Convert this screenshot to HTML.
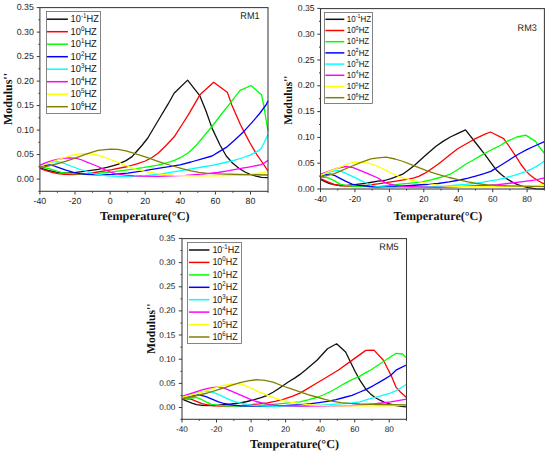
<!DOCTYPE html>
<html><head><meta charset="utf-8"><title>Loss modulus vs temperature</title>
<style>html,body{margin:0;padding:0;background:#fff}svg{display:block}text{white-space:pre;text-rendering:geometricPrecision}.sa,.sa text{font-family:"Liberation Sans",sans-serif}.se,.se text{font-family:"Liberation Serif",serif}</style>
</head><body>
<svg width="550" height="454" viewBox="0 0 550 454">
<rect width="550" height="454" fill="#fff"/>
<g fill="none" stroke-width="1.3" stroke-linejoin="round" stroke-linecap="butt"><path d="M39.9 167.8 L48.0 170.3 L56.0 172.2 L66.0 173.2 L74.3 172.6 L86.0 171.2 L98.0 169.4 L108.0 167.2 L117.8 164.3 L126.0 160.6 L132.1 156.6 L137.0 151.0 L142.3 145.0 L147.8 138.0 L160.6 116.5 L168.0 104.2 L174.1 93.2 L187.6 80.1 L199.9 95.9 L206.0 111.0 L212.0 128.1 L220.0 145.0 L226.3 156.0 L232.5 163.0 L239.5 168.7 L245.0 172.0 L250.5 174.5 L256.0 176.2 L261.5 177.3 L268.0 177.6" stroke="#111111"/><path d="M39.9 168.5 L46.0 170.6 L53.0 172.6 L58.0 173.6 L64.4 174.3 L73.0 174.5 L82.0 174.1 L90.0 173.2 L98.0 172.0 L112.0 169.7 L127.7 166.5 L137.0 163.8 L145.3 161.0 L152.0 157.5 L158.0 153.3 L162.0 149.5 L166.5 145.0 L174.2 136.8 L181.8 125.0 L188.0 115.4 L199.9 94.8 L213.7 82.2 L227.5 92.6 L231.8 105.0 L240.6 125.0 L243.9 131.4 L250.0 143.0 L256.0 153.3 L262.0 162.0 L268.0 170.9" stroke="#ff0000"/><path d="M39.9 167.2 L44.0 167.7 L49.0 168.7 L53.0 169.9 L56.7 171.2 L61.0 172.3 L65.5 173.1 L72.0 173.6 L80.0 173.9 L90.0 173.8 L98.0 173.4 L112.0 171.9 L127.7 169.8 L143.0 167.6 L158.0 165.1 L166.0 163.0 L174.5 160.4 L181.0 157.3 L187.7 153.3 L192.0 149.5 L196.5 145.0 L204.0 136.0 L212.0 126.5 L220.0 116.0 L228.0 105.8 L240.1 90.4 L251.1 85.5 L261.5 94.8 L263.7 105.0 L265.8 118.0 L268.0 131.0" stroke="#00ff00"/><path d="M39.9 166.6 L44.0 165.5 L49.0 164.8 L53.0 165.5 L58.0 167.3 L66.0 170.2 L74.3 172.6 L80.0 173.7 L86.0 174.4 L98.0 174.9 L112.0 174.3 L127.7 173.1 L143.0 170.9 L158.0 168.3 L169.0 166.7 L180.0 164.8 L191.0 162.0 L202.0 158.8 L212.0 156.0 L218.0 152.4 L226.3 147.4 L235.0 139.7 L243.9 131.4 L253.8 120.4 L260.0 113.0 L266.0 105.0 L268.0 100.9" stroke="#0000ff"/><path d="M39.9 166.0 L46.0 164.0 L52.0 162.2 L56.7 161.6 L61.0 162.3 L66.0 164.2 L72.0 166.5 L79.0 169.0 L86.5 171.4 L92.0 173.1 L98.0 174.5 L108.0 175.8 L120.0 176.4 L132.0 176.4 L145.0 175.7 L158.0 174.5 L172.0 172.2 L185.5 169.8 L202.0 167.0 L212.0 165.4 L223.0 163.0 L234.0 160.4 L242.0 158.0 L250.5 154.9 L256.0 152.0 L260.4 149.4 L262.2 146.5 L264.2 142.5 L268.0 134.4" stroke="#00ffff"/><path d="M39.9 165.3 L44.0 163.4 L49.0 161.6 L54.0 160.2 L60.0 158.9 L66.0 158.0 L71.0 157.8 L76.5 158.3 L82.0 160.0 L87.5 162.4 L93.0 164.5 L98.0 166.5 L104.5 169.7 L111.2 172.5 L118.0 174.1 L125.5 175.1 L134.0 175.8 L142.0 176.2 L158.0 176.4 L172.0 175.9 L185.5 175.3 L202.0 174.2 L218.0 172.5 L229.0 170.7 L239.5 168.7 L250.0 166.8 L260.4 164.8 L264.5 162.8 L268.0 160.4" stroke="#ff00ff"/><path d="M39.9 166.5 L50.0 162.6 L60.0 159.0 L68.0 156.5 L75.0 154.6 L82.0 153.6 L90.0 153.9 L98.0 155.1 L109.0 159.0 L120.0 163.2 L127.0 166.0 L134.3 168.7 L146.0 171.6 L158.0 173.8 L166.0 174.7 L174.5 175.3 L191.0 175.8 L205.0 175.9 L218.0 175.8 L235.0 175.3 L250.5 174.5 L260.0 173.1 L268.0 171.4" stroke="#ffff00"/><path d="M39.9 167.4 L44.6 166.9 L54.5 164.5 L65.5 161.4 L76.5 157.7 L87.5 153.7 L98.0 150.3 L105.0 149.6 L111.0 149.2 L118.0 149.3 L126.0 150.9 L134.3 153.3 L146.0 157.1 L158.0 161.3 L166.0 164.0 L174.5 166.5 L183.0 168.9 L191.0 170.9 L199.0 172.4 L207.5 173.4 L218.0 173.9 L240.0 174.5 L268.0 175.0" stroke="#808000"/></g><rect x="39.9" y="7.6" width="228.1" height="183.7" fill="none" stroke="#3a3a3a" stroke-width="1.05"/><path d="M39.9 179.1h-3.2M39.9 166.8h-1.5M39.9 154.6h-3.2M39.9 142.3h-1.5M39.9 130.1h-3.2M39.9 117.8h-1.5M39.9 105.6h-3.2M39.9 93.3h-1.5M39.9 81.1h-3.2M39.9 68.8h-1.5M39.9 56.6h-3.2M39.9 44.3h-1.5M39.9 32.1h-3.2M39.9 19.8h-1.5M39.9 7.6h-3.2M39.9 191.3h-1.5M39.9 191.3v3.2M57.4 191.3v1.5M75.0 191.3v3.2M92.5 191.3v1.5M110.1 191.3v3.2M127.7 191.3v1.5M145.2 191.3v3.2M162.8 191.3v1.5M180.3 191.3v3.2M197.8 191.3v1.5M215.4 191.3v3.2M232.9 191.3v1.5M250.5 191.3v3.2M268.0 191.3v1.5" stroke="#3a3a3a" stroke-width="1" fill="none"/><g class="sa" font-size="8.8" fill="#1a1a1a"><text x="33.8" y="181.7" text-anchor="end">0.00</text><text x="33.8" y="157.2" text-anchor="end">0.05</text><text x="33.8" y="132.7" text-anchor="end">0.10</text><text x="33.8" y="108.2" text-anchor="end">0.15</text><text x="33.8" y="83.7" text-anchor="end">0.20</text><text x="33.8" y="59.2" text-anchor="end">0.25</text><text x="33.8" y="34.7" text-anchor="end">0.30</text><text x="33.8" y="10.2" text-anchor="end">0.35</text><text x="39.9" y="204.3" text-anchor="middle">-40</text><text x="75.0" y="204.3" text-anchor="middle">-20</text><text x="110.1" y="204.3" text-anchor="middle">0</text><text x="145.2" y="204.3" text-anchor="middle">20</text><text x="180.3" y="204.3" text-anchor="middle">40</text><text x="215.4" y="204.3" text-anchor="middle">60</text><text x="250.5" y="204.3" text-anchor="middle">80</text></g><g class="sa" fill="#111"><rect x="46.5" y="11.5" width="54.0" height="102.0" fill="#fff" stroke="#666" stroke-width="0.8"/><path d="M47.0 19.2H67.9" stroke="#111111" stroke-width="1.5"/><text x="70.6" y="22.3" font-size="10.2" textLength="28.2" lengthAdjust="spacingAndGlyphs">10<tspan font-size="6.9" dy="-4.1">-1</tspan><tspan dy="4.1">HZ</tspan></text><path d="M47.0 31.7H67.9" stroke="#ff0000" stroke-width="1.5"/><text x="70.6" y="34.8" font-size="10.2" textLength="26.2" lengthAdjust="spacingAndGlyphs">10<tspan font-size="6.9" dy="-4.1">0</tspan><tspan dy="4.1">HZ</tspan></text><path d="M47.0 44.2H67.9" stroke="#00ff00" stroke-width="1.5"/><text x="70.6" y="47.3" font-size="10.2" textLength="26.2" lengthAdjust="spacingAndGlyphs">10<tspan font-size="6.9" dy="-4.1">1</tspan><tspan dy="4.1">HZ</tspan></text><path d="M47.0 56.7H67.9" stroke="#0000ff" stroke-width="1.5"/><text x="70.6" y="59.8" font-size="10.2" textLength="26.2" lengthAdjust="spacingAndGlyphs">10<tspan font-size="6.9" dy="-4.1">2</tspan><tspan dy="4.1">HZ</tspan></text><path d="M47.0 69.2H67.9" stroke="#00ffff" stroke-width="1.5"/><text x="70.6" y="72.3" font-size="10.2" textLength="26.2" lengthAdjust="spacingAndGlyphs">10<tspan font-size="6.9" dy="-4.1">3</tspan><tspan dy="4.1">HZ</tspan></text><path d="M47.0 81.7H67.9" stroke="#ff00ff" stroke-width="1.5"/><text x="70.6" y="84.8" font-size="10.2" textLength="26.2" lengthAdjust="spacingAndGlyphs">10<tspan font-size="6.9" dy="-4.1">4</tspan><tspan dy="4.1">HZ</tspan></text><path d="M47.0 94.2H67.9" stroke="#ffff00" stroke-width="1.5"/><text x="70.6" y="97.3" font-size="10.2" textLength="26.2" lengthAdjust="spacingAndGlyphs">10<tspan font-size="6.9" dy="-4.1">5</tspan><tspan dy="4.1">HZ</tspan></text><path d="M47.0 106.7H67.9" stroke="#808000" stroke-width="1.5"/><text x="70.6" y="109.8" font-size="10.2" textLength="26.2" lengthAdjust="spacingAndGlyphs">10<tspan font-size="6.9" dy="-4.1">6</tspan><tspan dy="4.1">HZ</tspan></text></g><text x="240.3" y="19.1" class="sa" font-size="9.8" fill="#222" textLength="19.3" lengthAdjust="spacingAndGlyphs">RM1</text><g class="se" font-weight="bold" fill="#111" text-anchor="middle"><text transform="translate(12.2 99.0) rotate(-90)" font-size="12.3" textLength="52.1" lengthAdjust="spacingAndGlyphs">Modulus''</text><text x="144.8" y="220.4" font-size="12.2" textLength="89.6" lengthAdjust="spacingAndGlyphs">Temperature(°C)</text></g><g fill="none" stroke-width="1.3" stroke-linejoin="round" stroke-linecap="butt"><path d="M320.5 179.4 L325.0 181.7 L329.0 183.3 L334.0 184.6 L340.0 185.5 L347.0 185.4 L354.3 184.6 L361.0 183.8 L367.5 183.0 L378.0 181.1 L384.6 180.5 L391.0 178.6 L397.0 176.4 L403.3 173.8 L408.5 170.0 L414.3 165.4 L425.0 155.7 L436.0 146.3 L443.0 141.4 L450.3 137.0 L458.0 133.3 L465.5 129.8 L478.2 146.0 L484.6 154.2 L490.8 162.6 L496.6 170.3 L501.5 174.7 L506.5 178.6 L512.0 181.9 L517.5 184.6 L523.0 186.4 L528.5 187.7 L536.2 188.8 L544.4 189.2" stroke="#111111"/><path d="M320.5 178.6 L325.0 180.6 L329.0 182.4 L334.0 184.3 L340.0 185.7 L346.0 186.2 L351.0 186.3 L359.0 185.9 L367.5 185.2 L378.0 183.8 L386.0 182.6 L394.5 181.3 L402.0 180.2 L408.8 179.1 L414.0 177.9 L418.7 176.4 L424.0 173.7 L428.6 170.9 L433.0 167.8 L438.0 164.3 L443.5 160.0 L449.0 155.5 L458.0 148.5 L465.5 144.2 L473.4 139.7 L485.0 134.2 L490.5 132.0 L503.7 138.6 L508.2 145.0 L516.4 157.1 L521.0 164.5 L526.3 171.4 L530.0 175.0 L534.0 178.0 L539.0 181.2 L544.4 184.1" stroke="#ff0000"/><path d="M320.5 177.0 L325.0 177.4 L329.0 178.0 L334.0 180.6 L340.0 184.1 L345.0 185.3 L351.0 186.0 L365.0 186.5 L378.0 186.6 L389.0 185.5 L400.0 184.1 L411.0 183.1 L422.0 181.9 L430.0 180.2 L438.0 178.0 L444.0 176.3 L450.1 174.2 L458.0 169.5 L465.5 164.3 L473.4 160.0 L482.0 154.9 L485.0 153.2 L490.0 150.5 L498.0 146.7 L501.0 145.0 L505.9 141.9 L516.9 137.0 L525.7 135.1 L535.6 141.4 L537.9 145.0 L541.0 149.0 L544.4 153.3" stroke="#00ff00"/><path d="M320.5 175.8 L325.0 174.8 L330.1 174.2 L335.0 175.7 L340.0 178.3 L346.0 181.3 L352.1 184.1 L357.0 185.1 L362.0 185.7 L370.0 186.5 L378.0 187.0 L395.0 186.4 L411.0 185.5 L425.0 184.5 L438.0 183.5 L449.0 181.9 L460.0 180.0 L468.0 178.1 L476.5 175.8 L484.0 173.7 L490.8 171.4 L494.0 169.4 L498.0 167.0 L506.0 162.0 L515.3 156.0 L521.0 152.8 L526.8 149.6 L536.8 145.0 L544.4 141.6" stroke="#0000ff"/><path d="M320.5 175.3 L326.0 173.4 L332.0 171.4 L337.8 170.5 L342.0 171.6 L348.0 174.3 L355.0 177.7 L361.0 180.7 L367.5 183.5 L372.0 185.3 L378.0 186.6 L390.0 187.3 L411.0 187.4 L425.0 186.9 L438.0 186.3 L452.0 185.5 L465.5 184.4 L474.0 183.5 L482.0 182.4 L490.0 180.8 L498.0 179.7 L506.5 177.5 L516.0 174.8 L526.3 171.4 L532.0 168.8 L537.3 165.9 L541.0 163.5 L544.4 161.0" stroke="#00ffff"/><path d="M320.5 174.2 L328.0 171.5 L336.0 168.7 L345.5 166.5 L353.2 167.6 L360.0 170.4 L369.0 174.2 L378.0 178.0 L384.6 182.4 L389.0 184.0 L394.5 185.2 L402.0 186.1 L411.0 186.6 L425.0 187.1 L438.0 187.4 L455.0 186.8 L471.0 186.0 L485.0 185.3 L498.0 184.6 L512.0 183.0 L523.0 181.7 L534.0 180.2 L539.0 179.2 L544.4 177.8" stroke="#ff00ff"/><path d="M320.5 175.3 L330.0 171.2 L340.0 167.1 L348.0 164.0 L354.3 162.1 L361.0 162.3 L368.6 163.2 L373.0 164.5 L378.0 166.5 L389.0 172.0 L400.0 176.9 L411.0 180.2 L422.0 182.4 L430.0 183.9 L438.0 185.2 L449.0 186.1 L460.0 186.6 L480.0 186.7 L498.0 186.6 L520.0 186.4 L535.0 185.6 L544.4 184.6" stroke="#ffff00"/><path d="M320.5 176.9 L327.0 175.5 L334.5 173.6 L342.0 170.3 L351.0 166.5 L361.0 162.4 L370.8 158.8 L378.0 157.8 L386.3 157.1 L395.0 159.0 L403.3 161.5 L414.3 165.9 L428.6 171.4 L438.0 174.3 L449.0 177.5 L460.0 180.2 L468.0 181.9 L476.5 183.5 L487.5 184.9 L498.0 185.5 L520.0 186.2 L544.4 186.6" stroke="#808000"/></g><rect x="320.5" y="8.6" width="223.9" height="180.4" fill="none" stroke="#3a3a3a" stroke-width="1.05"/><path d="M320.5 189.0h-3.2M320.5 176.1h-1.5M320.5 163.2h-3.2M320.5 150.3h-1.5M320.5 137.4h-3.2M320.5 124.5h-1.5M320.5 111.6h-3.2M320.5 98.7h-1.5M320.5 85.8h-3.2M320.5 72.9h-1.5M320.5 60.0h-3.2M320.5 47.1h-1.5M320.5 34.2h-3.2M320.5 21.3h-1.5M320.5 8.4h-3.2M320.5 189.0v3.2M337.7 189.0v1.5M354.9 189.0v3.2M372.2 189.0v1.5M389.4 189.0v3.2M406.6 189.0v1.5M423.8 189.0v3.2M441.0 189.0v1.5M458.3 189.0v3.2M475.5 189.0v1.5M492.7 189.0v3.2M509.9 189.0v1.5M527.1 189.0v3.2M544.4 189.0v1.5" stroke="#3a3a3a" stroke-width="1" fill="none"/><g class="sa" font-size="8.6" fill="#1a1a1a"><text x="314.6" y="191.6" text-anchor="end">0.00</text><text x="314.6" y="165.8" text-anchor="end">0.05</text><text x="314.6" y="140.0" text-anchor="end">0.10</text><text x="314.6" y="114.2" text-anchor="end">0.15</text><text x="314.6" y="88.4" text-anchor="end">0.20</text><text x="314.6" y="62.6" text-anchor="end">0.25</text><text x="314.6" y="36.8" text-anchor="end">0.30</text><text x="314.6" y="11.0" text-anchor="end">0.35</text><text x="320.5" y="202.1" text-anchor="middle">-40</text><text x="354.9" y="202.1" text-anchor="middle">-20</text><text x="389.4" y="202.1" text-anchor="middle">0</text><text x="423.8" y="202.1" text-anchor="middle">20</text><text x="458.3" y="202.1" text-anchor="middle">40</text><text x="492.7" y="202.1" text-anchor="middle">60</text><text x="527.1" y="202.1" text-anchor="middle">80</text></g><g class="sa" fill="#111"><rect x="324.5" y="12.5" width="48.0" height="91.0" fill="#fff" stroke="#666" stroke-width="0.8"/><path d="M325.4 19.3H344.3" stroke="#111111" stroke-width="1.5"/><text x="346.8" y="21.9" font-size="8.8" textLength="24.2" lengthAdjust="spacingAndGlyphs">10<tspan font-size="6.0" dy="-3.5">-1</tspan><tspan dy="3.5">HZ</tspan></text><path d="M325.4 30.5H344.3" stroke="#ff0000" stroke-width="1.5"/><text x="346.8" y="33.1" font-size="8.8" textLength="22.4" lengthAdjust="spacingAndGlyphs">10<tspan font-size="6.0" dy="-3.5">0</tspan><tspan dy="3.5">HZ</tspan></text><path d="M325.4 41.7H344.3" stroke="#00ff00" stroke-width="1.5"/><text x="346.8" y="44.3" font-size="8.8" textLength="22.4" lengthAdjust="spacingAndGlyphs">10<tspan font-size="6.0" dy="-3.5">1</tspan><tspan dy="3.5">HZ</tspan></text><path d="M325.4 52.9H344.3" stroke="#0000ff" stroke-width="1.5"/><text x="346.8" y="55.5" font-size="8.8" textLength="22.4" lengthAdjust="spacingAndGlyphs">10<tspan font-size="6.0" dy="-3.5">2</tspan><tspan dy="3.5">HZ</tspan></text><path d="M325.4 64.1H344.3" stroke="#00ffff" stroke-width="1.5"/><text x="346.8" y="66.7" font-size="8.8" textLength="22.4" lengthAdjust="spacingAndGlyphs">10<tspan font-size="6.0" dy="-3.5">3</tspan><tspan dy="3.5">HZ</tspan></text><path d="M325.4 75.3H344.3" stroke="#ff00ff" stroke-width="1.5"/><text x="346.8" y="77.9" font-size="8.8" textLength="22.4" lengthAdjust="spacingAndGlyphs">10<tspan font-size="6.0" dy="-3.5">4</tspan><tspan dy="3.5">HZ</tspan></text><path d="M325.4 86.5H344.3" stroke="#ffff00" stroke-width="1.5"/><text x="346.8" y="89.1" font-size="8.8" textLength="22.4" lengthAdjust="spacingAndGlyphs">10<tspan font-size="6.0" dy="-3.5">5</tspan><tspan dy="3.5">HZ</tspan></text><path d="M325.4 97.7H344.3" stroke="#808000" stroke-width="1.5"/><text x="346.8" y="100.3" font-size="8.8" textLength="22.4" lengthAdjust="spacingAndGlyphs">10<tspan font-size="6.0" dy="-3.5">6</tspan><tspan dy="3.5">HZ</tspan></text></g><text x="517.6" y="31.4" class="sa" font-size="9.6" fill="#222" textLength="19.3" lengthAdjust="spacingAndGlyphs">RM3</text><g class="se" font-weight="bold" fill="#111" text-anchor="middle"><text transform="translate(292.3 100.2) rotate(-90)" font-size="11.8" textLength="49.3" lengthAdjust="spacingAndGlyphs">Modulus''</text><text x="438.0" y="220.4" font-size="12.2" textLength="88.8" lengthAdjust="spacingAndGlyphs">Temperature(°C)</text></g><g fill="none" stroke-width="1.3" stroke-linejoin="round" stroke-linecap="butt"><path d="M182.0 398.8 L185.0 400.3 L188.8 401.9 L192.5 403.4 L196.5 404.7 L202.0 405.3 L207.5 405.5 L218.0 405.2 L229.5 404.1 L240.0 403.0 L247.0 401.5 L254.3 399.7 L261.0 397.7 L267.5 395.3 L273.0 392.2 L278.5 388.7 L289.0 381.5 L295.0 377.9 L300.0 374.4 L305.5 370.0 L317.0 360.3 L322.0 354.8 L327.5 348.7 L336.6 343.8 L345.6 352.0 L350.0 361.0 L355.0 371.3 L359.7 379.9 L366.3 389.8 L370.5 393.9 L375.1 397.5 L380.0 400.2 L385.0 402.5 L390.5 404.2 L396.0 405.5 L401.0 406.3 L406.5 406.9" stroke="#111111"/><path d="M182.0 398.8 L186.0 398.8 L191.0 399.2 L196.5 401.3 L202.0 403.6 L207.5 404.9 L213.0 405.8 L225.0 406.2 L240.0 405.6 L251.0 404.7 L259.0 403.9 L267.5 402.8 L276.0 401.2 L284.0 399.2 L292.0 396.4 L300.0 393.1 L308.0 388.4 L316.5 383.2 L322.0 380.0 L338.5 370.0 L355.0 358.1 L365.8 350.4 L374.0 350.1 L383.4 360.3 L388.3 370.0 L391.6 376.6 L396.0 387.1 L400.4 392.0 L406.5 397.5" stroke="#ff0000"/><path d="M182.0 398.6 L189.0 398.0 L196.5 397.5 L202.0 399.7 L206.5 402.1 L210.8 404.1 L217.0 405.2 L224.0 405.8 L240.0 406.1 L260.0 405.4 L278.5 403.9 L289.0 402.9 L300.0 401.8 L308.0 399.9 L316.5 397.5 L323.0 395.0 L329.7 392.0 L337.0 388.0 L344.0 383.8 L352.0 379.6 L360.0 376.1 L365.2 372.9 L370.7 370.0 L396.0 353.3 L402.6 354.0 L406.5 358.1" stroke="#00ff00"/><path d="M182.0 398.0 L190.0 396.1 L198.7 394.8 L205.3 396.4 L212.0 399.1 L218.5 401.9 L224.0 403.5 L229.5 404.7 L240.0 405.8 L260.0 406.3 L280.0 405.9 L300.0 404.6 L311.0 403.6 L319.0 402.6 L327.5 401.4 L336.0 399.6 L344.0 397.5 L352.0 395.3 L360.0 392.0 L366.3 389.3 L373.0 385.8 L379.5 382.1 L385.0 378.9 L390.5 375.5 L396.0 370.2 L401.0 367.6 L406.5 365.0" stroke="#0000ff"/><path d="M182.0 397.0 L190.0 394.6 L199.0 392.3 L207.5 390.9 L215.2 393.1 L222.0 396.2 L229.5 399.7 L235.0 401.6 L240.0 403.0 L248.0 404.7 L258.0 405.8 L275.0 406.4 L300.0 406.1 L320.0 405.2 L344.0 403.6 L352.0 403.0 L360.0 401.8 L368.5 399.2 L379.0 396.3 L390.5 393.1 L396.0 390.6 L400.4 388.2 L406.5 384.3" stroke="#00ffff"/><path d="M182.0 396.4 L192.0 393.1 L202.0 389.8 L209.0 388.2 L216.3 387.1 L224.0 388.2 L232.0 391.3 L240.0 394.8 L246.0 397.4 L251.0 399.7 L256.0 401.5 L262.0 403.0 L270.0 404.6 L278.5 405.5 L300.0 406.1 L330.0 405.9 L352.0 405.5 L363.0 404.8 L374.0 403.9 L382.0 403.0 L390.5 401.9 L398.0 400.7 L406.5 399.2" stroke="#ff00ff"/><path d="M182.0 397.5 L195.0 394.0 L207.5 390.4 L216.0 387.7 L224.0 385.4 L232.0 384.0 L240.0 383.6 L245.0 385.7 L251.0 388.2 L259.0 391.8 L267.5 395.3 L276.0 398.3 L284.0 400.8 L292.0 402.5 L300.0 403.6 L311.0 405.0 L330.0 405.7 L360.0 405.9 L385.0 405.8 L406.5 405.4" stroke="#ffff00"/><path d="M182.0 398.8 L195.0 396.0 L207.5 393.0 L216.0 390.4 L224.0 387.8 L232.0 385.2 L240.0 382.7 L248.0 380.8 L256.5 379.7 L265.0 380.4 L273.0 382.1 L284.0 386.5 L292.0 389.2 L300.0 391.8 L308.0 394.6 L316.5 397.0 L325.0 399.4 L333.0 401.4 L341.0 402.6 L349.5 403.4 L360.0 404.0 L380.0 404.5 L406.5 404.9" stroke="#808000"/></g><rect x="182.0" y="238.6" width="224.5" height="180.7" fill="none" stroke="#3a3a3a" stroke-width="1.05"/><path d="M182.0 407.5h-3.2M182.0 395.4h-1.5M182.0 383.4h-3.2M182.0 371.3h-1.5M182.0 359.2h-3.2M182.0 347.1h-1.5M182.0 335.0h-3.2M182.0 323.0h-1.5M182.0 310.9h-3.2M182.0 298.8h-1.5M182.0 286.8h-3.2M182.0 274.7h-1.5M182.0 262.6h-3.2M182.0 250.5h-1.5M182.0 238.4h-3.2M182.0 419.3h-1.5M182.0 419.3v3.2M199.3 419.3v1.5M216.5 419.3v3.2M233.8 419.3v1.5M251.1 419.3v3.2M268.4 419.3v1.5M285.6 419.3v3.2M302.9 419.3v1.5M320.2 419.3v3.2M337.4 419.3v1.5M354.7 419.3v3.2M372.0 419.3v1.5M389.2 419.3v3.2M406.5 419.3v1.5" stroke="#3a3a3a" stroke-width="1" fill="none"/><g class="sa" font-size="8.2" fill="#1a1a1a"><text x="175.3" y="409.9" text-anchor="end">0.00</text><text x="175.3" y="385.8" text-anchor="end">0.05</text><text x="175.3" y="361.6" text-anchor="end">0.10</text><text x="175.3" y="337.5" text-anchor="end">0.15</text><text x="175.3" y="313.3" text-anchor="end">0.20</text><text x="175.3" y="289.2" text-anchor="end">0.25</text><text x="175.3" y="265.0" text-anchor="end">0.30</text><text x="175.3" y="240.9" text-anchor="end">0.35</text><text x="182.0" y="432.2" text-anchor="middle">-40</text><text x="216.5" y="432.2" text-anchor="middle">-20</text><text x="251.1" y="432.2" text-anchor="middle">0</text><text x="285.6" y="432.2" text-anchor="middle">20</text><text x="320.2" y="432.2" text-anchor="middle">40</text><text x="354.7" y="432.2" text-anchor="middle">60</text><text x="389.2" y="432.2" text-anchor="middle">80</text></g><g class="sa" fill="#111"><rect x="187.5" y="242.5" width="54.0" height="101.0" fill="#fff" stroke="#666" stroke-width="0.8"/><path d="M188.9 250.0H209.5" stroke="#111111" stroke-width="1.5"/><text x="212.4" y="253.0" font-size="10.0" textLength="27.3" lengthAdjust="spacingAndGlyphs">10<tspan font-size="6.8" dy="-4.0">-1</tspan><tspan dy="4.0">HZ</tspan></text><path d="M188.9 262.4H209.5" stroke="#ff0000" stroke-width="1.5"/><text x="212.4" y="265.4" font-size="10.0" textLength="25.3" lengthAdjust="spacingAndGlyphs">10<tspan font-size="6.8" dy="-4.0">0</tspan><tspan dy="4.0">HZ</tspan></text><path d="M188.9 274.9H209.5" stroke="#00ff00" stroke-width="1.5"/><text x="212.4" y="277.9" font-size="10.0" textLength="25.3" lengthAdjust="spacingAndGlyphs">10<tspan font-size="6.8" dy="-4.0">1</tspan><tspan dy="4.0">HZ</tspan></text><path d="M188.9 287.3H209.5" stroke="#0000ff" stroke-width="1.5"/><text x="212.4" y="290.3" font-size="10.0" textLength="25.3" lengthAdjust="spacingAndGlyphs">10<tspan font-size="6.8" dy="-4.0">2</tspan><tspan dy="4.0">HZ</tspan></text><path d="M188.9 299.7H209.5" stroke="#00ffff" stroke-width="1.5"/><text x="212.4" y="302.7" font-size="10.0" textLength="25.3" lengthAdjust="spacingAndGlyphs">10<tspan font-size="6.8" dy="-4.0">3</tspan><tspan dy="4.0">HZ</tspan></text><path d="M188.9 312.1H209.5" stroke="#ff00ff" stroke-width="1.5"/><text x="212.4" y="315.1" font-size="10.0" textLength="25.3" lengthAdjust="spacingAndGlyphs">10<tspan font-size="6.8" dy="-4.0">4</tspan><tspan dy="4.0">HZ</tspan></text><path d="M188.9 324.6H209.5" stroke="#ffff00" stroke-width="1.5"/><text x="212.4" y="327.6" font-size="10.0" textLength="25.3" lengthAdjust="spacingAndGlyphs">10<tspan font-size="6.8" dy="-4.0">5</tspan><tspan dy="4.0">HZ</tspan></text><path d="M188.9 337.0H209.5" stroke="#808000" stroke-width="1.5"/><text x="212.4" y="340.0" font-size="10.0" textLength="25.3" lengthAdjust="spacingAndGlyphs">10<tspan font-size="6.8" dy="-4.0">6</tspan><tspan dy="4.0">HZ</tspan></text></g><text x="379.3" y="250.0" class="sa" font-size="9.6" fill="#222" textLength="19.3" lengthAdjust="spacingAndGlyphs">RM5</text><g class="se" font-weight="bold" fill="#111" text-anchor="middle"><text transform="translate(154.5 328.8) rotate(-90)" font-size="12.0" textLength="50.4" lengthAdjust="spacingAndGlyphs">Modulus''</text><text x="294.5" y="448.4" font-size="12.2" textLength="89.0" lengthAdjust="spacingAndGlyphs">Temperature(°C)</text></g>
</svg>
</body></html>
